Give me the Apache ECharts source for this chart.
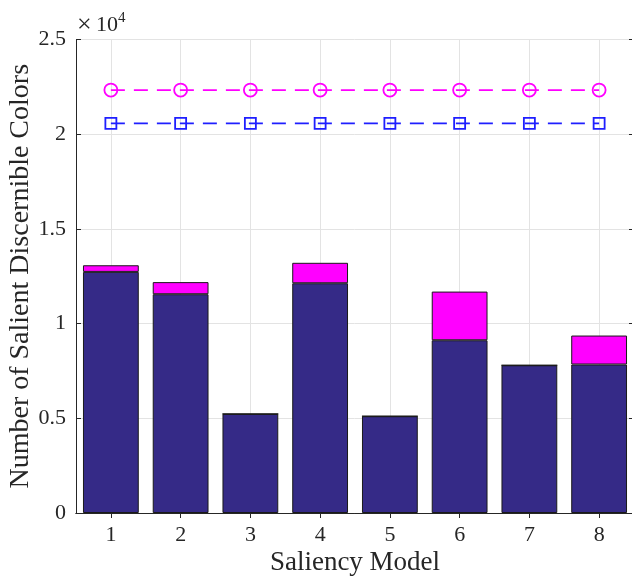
<!DOCTYPE html>
<html><head><meta charset="utf-8">
<script src="https://cdn.jsdelivr.net/npm/echarts@6/dist/echarts.min.js"></script>
<style>html,body{margin:0;padding:0;background:#fff}#c{width:632px;height:576px}</style>
</head><body><div id="c"></div>
<script>
const categories = ['1','2','3','4','5','6','7','8'];
const baseValues = [12730, 11550, 5230, 12130, 5110, 9120, 7800, 7840];
const extraValues = [350, 640, 0, 1080, 0, 2570, 0, 1530];
const circleLine = [22330, 22330, 22330, 22330, 22330, 22330, 22330, 22330];
const squareLine = [20570, 20570, 20570, 20570, 20570, 20570, 20570, 20570];
const yTicks = [0, 5000, 10000, 15000, 20000, 25000];

const font = 'Liberation Serif';
const axisCol = '#262626';
const gridCol = '#e3e3e3';

const chart = echarts.init(document.getElementById('c'), null, {renderer: 'canvas'});
chart.setOption({
  animation: false,
  backgroundColor: '#fff',
  textStyle: {fontFamily: font},
  graphic: [
    {type: 'text', left: 77, top: 12, silent: true,
     style: {text: '×', font: '26px "Liberation Serif"', fill: axisCol}},
    {type: 'text', left: 96, top: 14, silent: true,
     style: {text: '10', font: '22px "Liberation Serif"', fill: axisCol}},
    {type: 'text', left: 118, top: 11, silent: true,
     style: {text: '4', font: '15px "Liberation Serif"', fill: axisCol}}
  ],
  grid: {left: 76, top: 39.5, width: 558, height: 473.5, containLabel: false, outerBoundsMode: 'none'},
  xAxis: [{
    type: 'category', data: categories,
    name: 'Saliency Model', nameLocation: 'middle', nameGap: 36, nameMoveOverlap: false,
    nameTextStyle: {fontFamily: font, fontSize: 27, color: axisCol},
    axisLine: {lineStyle: {color: axisCol, width: 1}},
    axisTick: {show: true, alignWithLabel: true, inside: true, length: 5, lineStyle: {color: axisCol}},
    axisLabel: {fontFamily: font, fontSize: 22, color: axisCol, margin: 11},
    splitLine: {show: false}
  }, {
    type: 'category', data: categories, position: 'top',
    axisLine: {lineStyle: {color: axisCol, width: 1}},
    axisTick: {show: true, alignWithLabel: true, inside: true, length: 5, lineStyle: {color: axisCol}},
    axisLabel: {show: false}, splitLine: {show: false}
  }],
  yAxis: [{
    type: 'value', min: yTicks[0], max: yTicks[yTicks.length-1], interval: 5000,
    name: 'Number of Salient Discernible Colors', nameLocation: 'middle', nameGap: 41, nameMoveOverlap: false,
    nameTextStyle: {fontFamily: font, fontSize: 28, color: axisCol},
    axisLine: {show: true, lineStyle: {color: axisCol, width: 1}},
    axisTick: {show: true, inside: true, length: 5, lineStyle: {color: axisCol}},
    axisLabel: {fontFamily: font, fontSize: 22, color: axisCol, margin: 10,
      formatter: v => String(v / 10000)},
    splitLine: {show: true, lineStyle: {color: gridCol, width: 1}}
  }, {
    type: 'value', min: yTicks[0], max: yTicks[yTicks.length-1], interval: 5000, position: 'right',
    axisLine: {show: true, lineStyle: {color: axisCol, width: 1}},
    axisTick: {show: true, inside: true, length: 5, lineStyle: {color: axisCol}},
    axisLabel: {show: false}, splitLine: {show: false}
  }],
  series: [
    {
      type: 'line', data: [], z: 0, silent: true,
      markLine: {
        z: 0, silent: true, symbol: ['none','none'], label: {show: false},
        lineStyle: {color: gridCol, type: 'solid', width: 1},
        emphasis: {disabled: true},
        data: categories.map(c => ({xAxis: c}))
      }
    },
    {
      type: 'bar', stack: 'a', data: baseValues, barWidth: '80%', z: 2,
      itemStyle: {color: '#352a87', borderColor: '#1a1a1a', borderWidth: 1}
    },
    {
      type: 'bar', stack: 'a', data: extraValues, barWidth: '80%', z: 2,
      itemStyle: {color: '#ff00ff', borderColor: '#1a1a1a', borderWidth: 1}
    },
    {
      type: 'line', data: circleLine, z: 3, symbol: 'circle', symbolSize: 13,
      lineStyle: {color: '#ff00ff', width: 1.8, type: [14, 9]},
      itemStyle: {color: 'rgba(0,0,0,0)', borderColor: '#ff00ff', borderWidth: 1.8}
    },
    {
      type: 'line', data: squareLine, z: 3, symbol: 'rect', symbolSize: 11,
      lineStyle: {color: '#1f1fff', width: 1.8, type: [14, 9]},
      itemStyle: {color: 'rgba(0,0,0,0)', borderColor: '#1f1fff', borderWidth: 1.8}
    }
  ]
});
</script></body></html>
